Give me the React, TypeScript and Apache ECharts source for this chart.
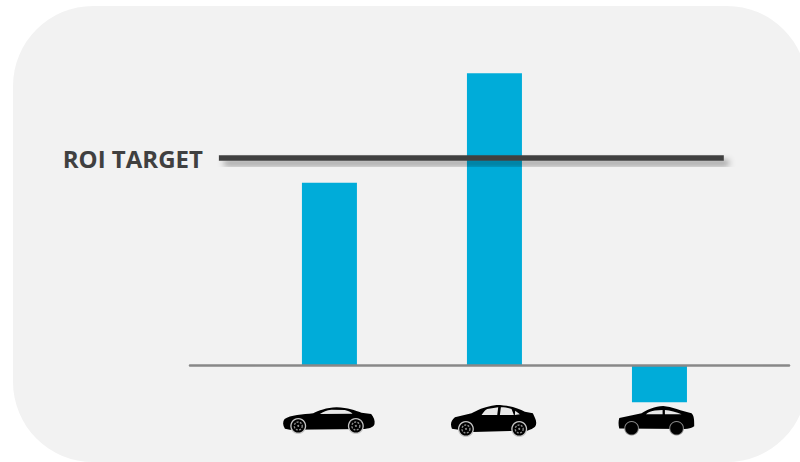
import React, { useEffect, useRef } from "react";
import * as echarts from "echarts";

const categories = ["Coupe", "Sedan", "Compact"];
const roiValues = [88, 141, -18];
const roiTarget = 100;
const targetLabel = "ROI TARGET";
// Extent of the target line along the category scale.
const targetSpan = [-0.67, 2.39];

const W = 800;
const H = 462;

// Silhouettes are authored at 3x and scaled down when drawn.
const BODY_PATHS = [
  "M45 116 C38 105 38 95 44 87 C60 76 100 73 130 70 C145 62 170 53 200 52 C235 53 255 62 275 68 L304 72 C312 82 316 92 314 102 C312 110 305 114 285 117 L60 119 Z",
  "M36 116 C31 105 32 92 45 82 L95 70 C110 62 130 50 170 45 C205 45 235 55 255 65 L279 70 C283 80 290 90 289 100 C288 110 285 115 262 122 L100 126 Z",
  "M28 221 C25 210 25 198 28 189 L95 175 C110 165 135 153 160 153 C185 155 215 168 245 175 C250 180 254 188 253 214 C245 220 235 222 225 222 Z",
];
const WINDOW_PATHS = [
  "M150 72 C160 65 170 60 185 59 L225 60 C235 63 243 66 248 71 Z",
  "M125 75 C130 68 135 60 142 57 L175 52 L172 75 Z M180 75 L183 52 C195 52 208 54 215 57 L222 75 Z M225 75 L226 62 L240 73 Z",
  "M108 178 C115 172 125 168 135 167 L158 165 L158 178 Z M165 178 L165 165 C180 166 200 172 215 178 Z",
];
const CAR_ANCHORS = [
  { dx: -59.5, dy: 25, wheels: [[85, 108], [258, 108]], r: 20, spoked: true },
  { dx: -54.5, dy: 25, wheels: [[78, 117], [238, 117]], r: 20, spoked: true },
  { dx: -49.5, dy: -10, wheels: [[65, 220], [200, 220]], r: 17, spoked: false },
];

BODY_PATHS.forEach((d, i) => {
  echarts.graphic.registerShape(`carBody${i}`, echarts.graphic.extendPath(d, {}));
  echarts.graphic.registerShape(`carWindow${i}`, echarts.graphic.extendPath(WINDOW_PATHS[i], {}));
});

function renderCar(_params: any, api: any) {
  const i = api.value(0);
  const [px, py] = api.coord([i, 0]);
  const car = CAR_ANCHORS[i];
  const children: any[] = [
    { type: `carBody${i}`, style: { fill: "#000000" } },
    { type: `carWindow${i}`, style: { fill: "#e8e8e8" } },
  ];
  car.wheels.forEach(([cx, cy]) => {
    children.push(
      { type: "circle", shape: { cx, cy, r: car.r + (car.spoked ? 4 : 5) }, style: { fill: car.spoked ? "#c4c4c4" : "#8a8a8a" } },
      { type: "circle", shape: { cx, cy, r: car.r + (car.spoked ? 0 : 2) }, style: { fill: "#000000" } },
    );
    if (car.spoked) {
      children.push(
        { type: "circle", shape: { cx, cy, r: 12 }, style: { fill: "none", stroke: "#8c8c8c", lineWidth: 4, lineDash: [6, 4] } },
        { type: "circle", shape: { cx, cy, r: 3 }, style: { fill: "#8c8c8c" } },
      );
    }
  });
  return {
    type: "group",
    x: px + car.dx,
    y: py + car.dy,
    scaleX: 1 / 3,
    scaleY: 1 / 3,
    children,
  };
}

// The target is a thin rect rather than a line: an SVG shadow filter needs a box with height.
function renderTarget(_params: any, api: any) {
  const [x0, y] = api.coord([targetSpan[0], roiTarget]);
  const [x1] = api.coord([targetSpan[1], roiTarget]);
  return {
    type: "group",
    children: [
      {
        type: "rect",
        shape: { x: x0, y: y - 2.75, width: x1 - x0, height: 5.5 },
        style: {
          fill: "#404040",
          shadowColor: "rgba(0,0,0,0.4)",
          shadowBlur: 6,
          shadowOffsetX: 5,
          shadowOffsetY: 5,
        },
      },
      {
        type: "text",
        x: x0 - 16,
        y,
        style: {
          text: targetLabel,
          align: "right",
          verticalAlign: "middle",
          fontFamily: "Open Sans",
          fontWeight: "bold",
          fontSize: 24,
          fill: "#404040",
        },
      },
    ],
  };
}

export default function App() {
  const ref = useRef<HTMLDivElement>(null);

  useEffect(() => {
    const chart = echarts.init(ref.current!, null, { renderer: "svg" });
    chart.setOption({
      animation: false,
      backgroundColor: "#ffffff",
      graphic: [
        {
          type: "rect",
          z: -10,
          silent: true,
          shape: { x: 13, y: 6, width: 794, height: 456, r: 80 },
          style: { fill: "#f2f2f2" },
        },
      ],
      grid: { left: 190, width: 599, top: 33.8, height: 414 },
      xAxis: {
        type: "value",
        min: -0.845,
        max: 2.785,
        z: 3,
        splitLine: { show: false },
        axisTick: { show: false },
        axisLabel: { show: false },
        axisLine: { show: true, onZero: true, lineStyle: { color: "#888888", width: 2.5 } },
      },
      yAxis: {
        type: "value",
        min: -40,
        max: 160,
        show: false,
        splitLine: { show: false },
      },
      series: [
        {
          type: "bar",
          barWidth: 55,
          itemStyle: { color: "#00acd9" },
          data: categories.map((name, i) => ({ name, value: [i, roiValues[i]] })),
        },
        {
          type: "custom",
          z: 4,
          renderItem: renderTarget,
          clip: false,
          data: [[roiTarget]],
        },
        {
          type: "custom",
          z: 5,
          renderItem: renderCar,
          data: categories.map((_, i) => [i]),
        },
      ],
    });
    return () => chart.dispose();
  }, []);

  return (
    <div
      ref={ref}
      style={{ position: "absolute", left: 0, top: 0, width: W, height: H }}
    />
  );
}
